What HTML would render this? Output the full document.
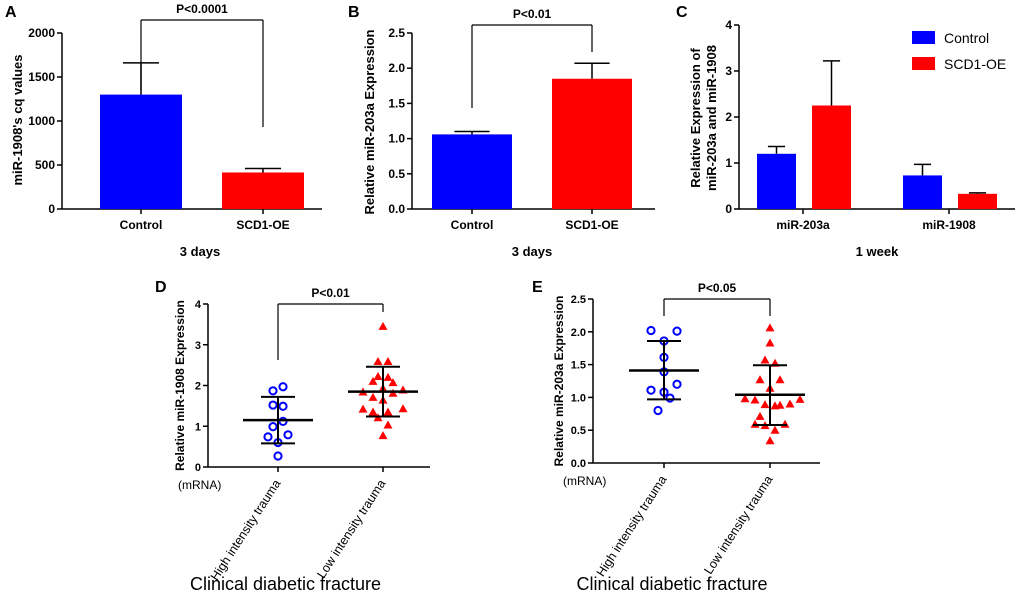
<!DOCTYPE html>
<html><head><meta charset="utf-8"><style>
body{margin:0;background:#fff}
svg{display:block;font-family:"Liberation Sans",sans-serif}
</style></head><body>
<svg id="fig" width="1020" height="597"></svg>
<script>
const aCats=["Control","SCD1-OE"], aVals=[1300,415], aErr=[1660,460], aTicks=[0,500,1000,1500,2000];
const bCats=["Control","SCD1-OE"], bVals=[1.06,1.85], bErr=[1.10,2.07], bTicks=[0,0.5,1.0,1.5,2.0,2.5];
const cCats=["miR-203a","miR-1908"], cCtrl=[1.2,0.73], cCtrlErr=[1.36,0.97], cScd=[2.25,0.33], cScdErr=[3.22,0.35], cTicks=[0,1,2,3,4];
const dHigh=[1.87,1.97,1.52,1.49,0.99,1.12,0.74,0.79,0.6,0.27];
const dHighOff=[-5,5,-5,5,-5,5,-10,10,0,0];
const dLow=[3.45,2.59,2.59,2.22,2.2,2.1,2.07,1.93,1.84,1.89,1.81,1.71,1.64,1.42,1.43,1.35,1.35,1.21,1.03,0.77];
const dLowOff=[0,-5,5,-5,5,-10,10,0,-20,20,10,-10,0,-20,20,-10,5,-5,5,0];
const dStats=[[1.15,1.72,0.58],[1.85,2.46,1.24]], dTicks=[0,1,2,3,4];
const eHigh=[2.02,2.01,1.86,1.61,1.39,1.11,1.08,1.20,0.99,0.80];
const eHighOff=[-13,13,0,0,0,-13,0,13,6,-6];
const eLow=[2.06,1.83,1.57,1.52,1.27,1.27,1.14,0.98,0.96,0.97,0.90,0.89,0.87,0.88,0.71,0.59,0.57,0.59,0.50,0.34];
const eLowOff=[0,0,-5,5,-10,10,0,-25,-15,30,20,-5,5,10,-10,-15,-5,15,5,0];
const eStats=[[1.41,1.86,0.97],[1.04,1.49,0.58]], eTicks=[0,0.5,1.0,1.5,2.0,2.5];

const svg=document.getElementById('fig');const NS="http://www.w3.org/2000/svg";
function el(tag,attrs,text){const e=document.createElementNS(NS,tag);for(const k in attrs)e.setAttribute(k,attrs[k]);if(text!==undefined)e.textContent=text;svg.appendChild(e);return e;}
function line(x1,y1,x2,y2,w,name){const l=el('line',{x1,y1,x2,y2,stroke:'#000','stroke-width':w||1.5});

return l;}
function txt(x,y,s,opt,name){const t=el('text',Object.assign({x,y},opt||{}),s);

return t;}
function yAxis(x,y0,y1,x2,ticks,max,fmt,prefix,fs){
  line(x,y0,x,y1,1.5,prefix+'-y-axis');line(x,y0,x2,y0,1.5,prefix+'-x-axis');
  const ys=v=>y0-(v/max)*(y0-y1);
  ticks.forEach((v,i)=>{const y=ys(v);line(x-5,y,x,y,1.5,prefix+'-y-tick');
    txt(x-7,y+4,fmt?fmt(v):String(v),{'text-anchor':'end','font-size':fs||12,'font-weight':'bold'},prefix+'-y-tick-label');});
  return ys;}
function bar(x,w,y,y0,color,errY,name){const r=el('rect',{x,y,width:w,height:y0-y,fill:color});


const cx=x+w/2;line(cx,y,cx,errY,1.5,name+'-error');line(cx-w*0.22,errY,cx+w*0.22,errY,1.5,name+'-error-cap');}
function bracket(x1,x2,yt,yl,yr,label,prefix){line(x1,yl,x1,yt,1.2,prefix+'-bracket');line(x1,yt,x2,yt,1.2,prefix+'-bracket');line(x2,yt,x2,yr,1.2,prefix+'-bracket');
txt((x1+x2)/2,yt-7,label,{'text-anchor':'middle','font-size':12,'font-weight':'bold'},prefix+'-p-value');}
const BLUE='#0000ff',RED='#ff0000';

// Panel A
txt(5,17,'A',{'font-size':16,'font-weight':'bold'},'panel-a-letter');
let ys=yAxis(62,209,33,322,aTicks,2000,null,'panel-a');
[[100,BLUE],[222,RED]].forEach((p,i)=>{bar(p[0],82,ys(aVals[i]),209,p[1],ys(aErr[i]),'panel-a-bar-'+i);
 line(p[0]+41,209,p[0]+41,214,1.5,'panel-a-x-tick');txt(p[0]+41,229,aCats[i],{'text-anchor':'middle','font-size':12,'font-weight':'bold'},'panel-a-x-label');});
bracket(141,263,20,90,127,'P<0.0001','panel-a');
txt(200,256,'3 days',{'text-anchor':'middle','font-size':13,'font-weight':'bold'},'panel-a-x-title');
txt(0,0,"miR-1908's cq values",{'font-size':13,'font-weight':'bold',transform:'translate(22,120) rotate(-90)','text-anchor':'middle'},'panel-a-y-title');

// Panel B
txt(348,17,'B',{'font-size':16,'font-weight':'bold'},'panel-b-letter');
ys=yAxis(412,209,33,655,bTicks,2.5,v=>v.toFixed(1),'panel-b');
[[432,BLUE],[552,RED]].forEach((p,i)=>{bar(p[0],80,ys(bVals[i]),209,p[1],ys(bErr[i]),'panel-b-bar-'+i);
 line(p[0]+40,209,p[0]+40,214,1.5,'panel-b-x-tick');txt(p[0]+40,229,bCats[i],{'text-anchor':'middle','font-size':12,'font-weight':'bold'},'panel-b-x-label');});
bracket(472,592,25,108,52,'P<0.01','panel-b');
txt(532,256,'3 days',{'text-anchor':'middle','font-size':13,'font-weight':'bold'},'panel-b-x-title');
txt(0,0,"Relative miR-203a Expression",{'font-size':13,'font-weight':'bold',transform:'translate(374,122) rotate(-90)','text-anchor':'middle'},'panel-b-y-title');

// Panel C
txt(676,17,'C',{'font-size':16,'font-weight':'bold'},'panel-c-letter');
ys=yAxis(739,209,25,1015,cTicks,4,null,'panel-c');
[757,903].forEach((x,i)=>{bar(x,39,ys(cCtrl[i]),209,BLUE,ys(cCtrlErr[i]),'panel-c-control-bar-'+i);
 bar(x+55,39,ys(cScd[i]),209,RED,ys(cScdErr[i]),'panel-c-scd1-bar-'+i);
 line(x+46,209,x+46,214,1.5,'panel-c-x-tick');txt(x+46,229,cCats[i],{'text-anchor':'middle','font-size':12,'font-weight':'bold'},'panel-c-x-label');});
txt(877,256,'1 week',{'text-anchor':'middle','font-size':13,'font-weight':'bold'},'panel-c-x-title');
txt(0,0,"Relative  Expression of",{'font-size':13,'font-weight':'bold',transform:'translate(700,118) rotate(-90)','text-anchor':'middle'},'panel-c-y-title-1');
txt(0,0,"miR-203a and miR-1908",{'font-size':13,'font-weight':'bold',transform:'translate(716,118) rotate(-90)','text-anchor':'middle'},'panel-c-y-title-2');
[[BLUE,'Control',31],[RED,'SCD1-OE',57]].forEach((l,i)=>{const r=el('rect',{x:912,y:l[2],width:23,height:13,fill:l[0]});


txt(944,l[2]+12,l[1],{'font-size':14},'legend-entry');});

// Scatter panels
function scatter(prefix,letter,lx,ax,y0,y1,xEnd,ticks,max,fmt,cx,high,highOff,low,lowOff,stats,br,pLabel,yTitle,titleOff){
 txt(lx,292,letter,{'font-size':16,'font-weight':'bold'},prefix+'-letter');
 const ys=yAxis(ax,y0,y1,xEnd,ticks,max,fmt,prefix,11);
 cx.forEach(x=>line(x,y0,x,y0+5,1.5,prefix+'-x-tick'));
 high.forEach((v,i)=>{const c=el('circle',{cx:cx[0]+highOff[i],cy:ys(v),r:3.6,fill:'none',stroke:BLUE,'stroke-width':2});
  
  });
 low.forEach((v,i)=>{const x=cx[1]+lowOff[i],y=ys(v);const p=el('polygon',{points:`${x},${y-4.5} ${x-4.5},${y+3.5} ${x+4.5},${y+3.5}`,fill:RED});
  
  });
 stats.forEach((s,i)=>{const x=cx[i];line(x-35,ys(s[0]),x+35,ys(s[0]),2.5,prefix+'-mean');
  line(x-17,ys(s[1]),x+17,ys(s[1]),2,prefix+'-sd');line(x-17,ys(s[2]),x+17,ys(s[2]),2,prefix+'-sd');line(x,ys(s[1]),x,ys(s[2]),2,prefix+'-sd');});
 bracket(cx[0],cx[1],br[0],br[1],br[2],pLabel,prefix);
 txt(0,0,yTitle,{'font-size':12,'font-weight':'bold',transform:`translate(${ax-titleOff},${(y0+y1)/2}) rotate(-90)`,'text-anchor':'middle'},prefix+'-y-title');
 txt(ax-30,y0+22,'(mRNA)',{'font-size':12},prefix+'-unit');
 txt(0,0,'High intensity trauma',{'font-size':12.5,transform:`translate(${cx[0]+3},${y0+16}) rotate(-57)`,'text-anchor':'end'},prefix+'-x-label-high');
 txt(0,0,'Low intensity trauma',{'font-size':12.5,transform:`translate(${cx[1]+3},${y0+16}) rotate(-57)`,'text-anchor':'end'},prefix+'-x-label-low');
 txt(cx[0]+(cx[1]-cx[0])/2-45,590,'Clinical diabetic fracture',{'font-size':18,'text-anchor':'middle'},prefix+'-x-title');
}
scatter('panel-d','D',155,208,467,304,430,dTicks,4,null,[278,383],dHigh,dHighOff,dLow,dLowOff,dStats,[304,360,312],'P<0.01','Relative miR-1908 Expression',24);
scatter('panel-e','E',532,593,463,299,820,eTicks,2.5,v=>v.toFixed(1),[664,770],eHigh,eHighOff,eLow,eLowOff,eStats,[299,316,316],'P<0.05','Relative miR-203a Expression',30);
</script></body></html>
